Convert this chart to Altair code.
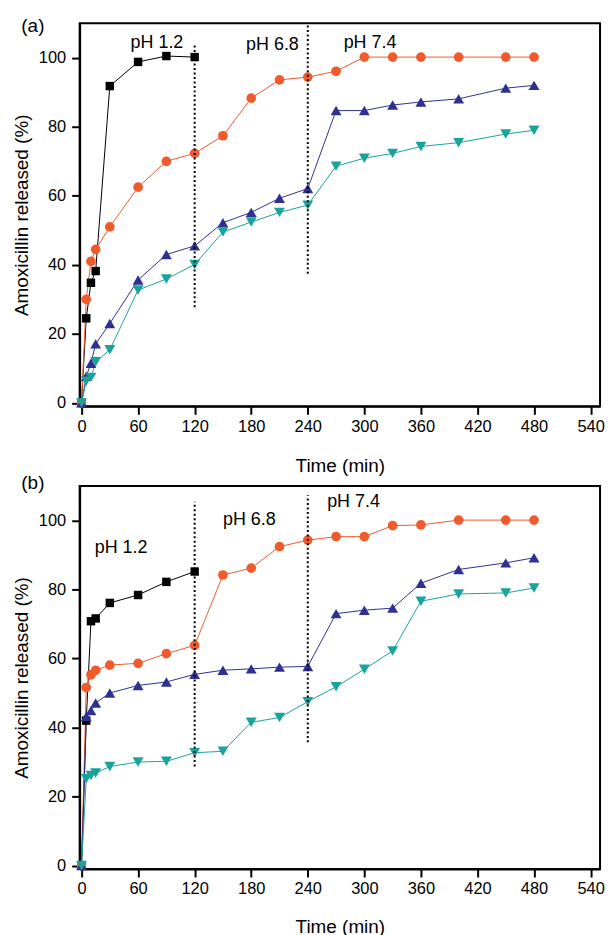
import altair as alt
import pandas as pd

FONT = "Liberation Sans"

# ---------------- data ----------------
T_SHORT = [0, 5, 10, 15, 30, 60, 90, 120]
T_LONG = [0, 5, 10, 15, 30, 60, 90, 120, 150, 180, 210, 240, 270, 300, 330, 360, 400, 450, 480]

A_NAMES = ["LDH-AMX", "CMC-Z0/LDH-AMX", "CMC-Z25/LDH-AMX", "CMC-Z50/LDH-AMX"]
A_LDH = [0, 24.5, 34.8, 38.2, 91.8, 98.8, 100.5, 100.2]
A_Z0 = [0, 30.0, 41.0, 44.5, 51.0, 62.5, 70.0, 72.3, 77.4, 88.3, 93.6, 94.4, 96.1, 100.2, 100.2, 100.2, 100.2, 100.2, 100.2]
A_Z25 = [0, 7.7, 11.5, 17.1, 23.0, 35.6, 43.0, 45.5, 52.2, 55.2, 59.3, 62.1, 84.7, 84.7, 86.3, 87.2, 88.1, 91.2, 92.0]
A_Z50 = [0, 6.3, 7.4, 11.9, 15.4, 32.7, 35.9, 40.1, 49.5, 52.4, 55.2, 57.3, 68.6, 70.9, 72.3, 74.3, 75.4, 77.9, 79.0]

B_NAMES = ["Mt-AMX", "CMC-Z0/Mt-AMX", "CMC-Z25/Mt-AMX", "CMC-Z50/Mt-AMX"]
B_MT = [0, 42.0, 70.8, 71.6, 76.1, 78.4, 82.2, 85.2]
B_Z0 = [0, 51.6, 55.3, 56.6, 58.1, 58.6, 61.4, 63.8, 84.2, 86.2, 92.4, 94.3, 95.3, 95.3, 98.5, 98.7, 100.1, 100.1, 100.1]
B_Z25 = [0, 43.2, 44.9, 47.1, 50.0, 52.2, 53.2, 55.4, 56.6, 57.0, 57.5, 57.7, 73.0, 74.0, 74.6, 81.8, 85.8, 87.7, 89.2]
B_Z50 = [0, 25.2, 26.1, 26.8, 28.7, 30.0, 30.2, 32.7, 33.1, 41.5, 42.9, 47.5, 51.8, 56.9, 62.2, 76.6, 78.7, 79.0, 80.4]

# dotted pH-change lines: time, lower end, upper end
A_DOT_T = [120, 240]
A_DOT_LO = [27.7, 37.4]
A_DOT_HI = [104.3, 109.6]
B_DOT_T = [120, 240]
B_DOT_LO = [28.7, 35.7]
B_DOT_HI = [105.4, 107.3]

# pH annotations
PH_LABELS = ["pH 1.2", "pH 6.8", "pH 7.4"]
A_PH_T = [80, 202.5, 306]
A_PH_V = [102.7, 102.3, 102.9]
B_PH_T = [42, 178, 288.5]
B_PH_V = [90.5, 98.6, 103.9]

X_TICKS = list(range(0, 541, 30))
Y_TICKS = list(range(0, 101, 10))

COLORS = ["#000000", "#F15A2B", "#2E3192", "#1AA39B"]
SHAPES = ["square", "circle", "triangle-up", "triangle-down"]
SIZES = [72, 95, 120, 120]
LEGEND_PATHS = [
    "M-1,0H1M-0.215,-0.215H0.215V0.215H-0.215Z",
    "M-1,0H1M0.24,0C0.24,0.1326 0.1326,0.24 0,0.24C-0.1326,0.24 -0.24,0.1326 -0.24,0"
    "C-0.24,-0.1326 -0.1326,-0.24 0,-0.24C0.1326,-0.24 0.24,-0.1326 0.24,0Z",
    "M-1,0H1M0,-0.235L0.29,0.235L-0.29,0.235Z",
    "M-1,0H1M0,0.235L0.29,-0.235L-0.29,-0.235Z",
]


def panel(names, series, dot_t, dot_lo, dot_hi, ph_t, ph_v, tag, tag_y,
          leg_offset, leg_drop, title_pad):
    rows = []
    for name, (ts, vs) in zip(names, series):
        for t, v in zip(ts, vs):
            rows.append({"series": name, "t": t, "v": v})
    df = pd.DataFrame(rows)
    dots = pd.DataFrame({"t": dot_t, "lo": dot_lo, "hi": dot_hi})
    ph = pd.DataFrame({"t": ph_t, "v": ph_v, "label": PH_LABELS})
    tagdf = pd.DataFrame({"label": [tag]})

    xs = alt.Scale(domain=[-2, 550], nice=False, zero=False)
    ys = alt.Scale(domain=[-1, 110], nice=False, zero=False)
    xaxis = alt.Axis(
        title="Time (min)", values=X_TICKS,
        labelExpr="datum.value % 60 == 0 ? datum.label : ''",
        tickSize={"condition": {"test": "datum.value % 60 == 0", "value": 8}, "value": 4},
        labelPadding=4, titlePadding=title_pad, labelFlush=False, labelOverlap=False,
    )
    yaxis = alt.Axis(
        title="Amoxicillin released (%)", values=Y_TICKS,
        labelExpr="datum.value % 20 == 0 ? datum.label : ''",
        tickSize={"condition": {"test": "datum.value % 20 == 0", "value": 8}, "value": 4},
        labelPadding=6, titlePadding=7, labelOverlap=False,
    )
    X = alt.X("t:Q", scale=xs, axis=xaxis)
    Y = alt.Y("v:Q", scale=ys, axis=yaxis)
    cscale = alt.Scale(domain=names, range=COLORS)

    lines = alt.Chart(df).mark_line(strokeWidth=1).encode(
        x=X, y=Y, color=alt.Color("series:N", scale=cscale, legend=None)
    )
    layers = [lines]
    for i, name in enumerate(names):
        layers.append(
            alt.Chart(df).transform_filter(alt.datum.series == name)
            .mark_point(shape=SHAPES[i], filled=True, size=SIZES[i], opacity=1)
            .encode(x=X, y=Y, color=alt.Color("series:N", scale=cscale, legend=None))
        )

    def leg():
        # right-oriented legend pulled back inside the frame; a blank title drops it down
        return alt.Legend(
            title=" ", titleFontSize=1, titlePadding=leg_drop,
            orient="right", offset=leg_offset, padding=0,
            labelFont=FONT, labelFontSize=19, labelColor="black", labelOffset=6,
            symbolSize=1764, symbolStrokeWidth=1.2, symbolOpacity=1, rowPadding=4.3,
            labelLimit=400,
        )

    # legend-only layer: the same points pushed out of the plotting range and clipped away
    legend_layer = (
        alt.Chart(df).transform_calculate(off="datum.v + 1000")
        .mark_point(filled=True, size=1764, strokeWidth=1.2, opacity=1, clip=True)
        .encode(
            x=X, y=alt.Y("off:Q", scale=ys),
            fill=alt.Fill("series:N", scale=alt.Scale(domain=names, range=COLORS), legend=leg()),
            stroke=alt.Stroke("series:N", scale=alt.Scale(domain=names, range=COLORS), legend=leg()),
            shape=alt.Shape("series:N", scale=alt.Scale(domain=names, range=LEGEND_PATHS), legend=leg()),
        )
    )
    layers.append(legend_layer)

    rules = alt.Chart(dots).mark_rule(color="black", strokeWidth=2, strokeDash=[2, 2.5]).encode(
        x=alt.X("t:Q", scale=xs), y=alt.Y("lo:Q", scale=ys), y2="hi:Q"
    )
    texts = alt.Chart(ph).mark_text(font=FONT, fontSize=18, color="black", baseline="alphabetic").encode(
        x=alt.X("t:Q", scale=xs), y=alt.Y("v:Q", scale=ys), text="label:N"
    )
    tagm = alt.Chart(tagdf).mark_text(font=FONT, fontSize=19, color="black", baseline="middle").encode(
        x=alt.value(-47), y=alt.value(tag_y), text="label:N"
    )
    layers += [rules, texts, tagm]
    return alt.layer(*layers).properties(width=523, height=385)


pa = panel(A_NAMES, [(T_SHORT, A_LDH), (T_LONG, A_Z0), (T_LONG, A_Z25), (T_LONG, A_Z50)],
           A_DOT_T, A_DOT_LO, A_DOT_HI, A_PH_T, A_PH_V, "(a)", 3, -239, 278, 22)
pb = panel(B_NAMES, [(T_SHORT, B_MT), (T_LONG, B_Z0), (T_LONG, B_Z25), (T_LONG, B_Z50)],
           B_DOT_T, B_DOT_LO, B_DOT_HI, B_PH_T, B_PH_V, "(b)", -3, -221, 278, 20)

chart = (
    alt.vconcat(pa, pb, spacing=-4)
    .resolve_scale(color="independent", fill="independent", stroke="independent", shape="independent")
    .resolve_legend(color="independent", fill="independent", stroke="independent", shape="independent")
    .properties(padding={"left": 3, "top": 6, "right": 0, "bottom": 0}, background="white")
    .configure_view(stroke="black", strokeWidth=2)
    .configure_axis(
        domainColor="black", domainWidth=2, tickColor="black", tickWidth=2,
        labelFont=FONT, labelFontSize=16.5, labelColor="black",
        titleFont=FONT, titleFontSize=19, titleFontWeight="normal", titleColor="black",
        grid=False,
    )
)

chart.save("out.html", embed_options={"renderer": "svg", "actions": False})
